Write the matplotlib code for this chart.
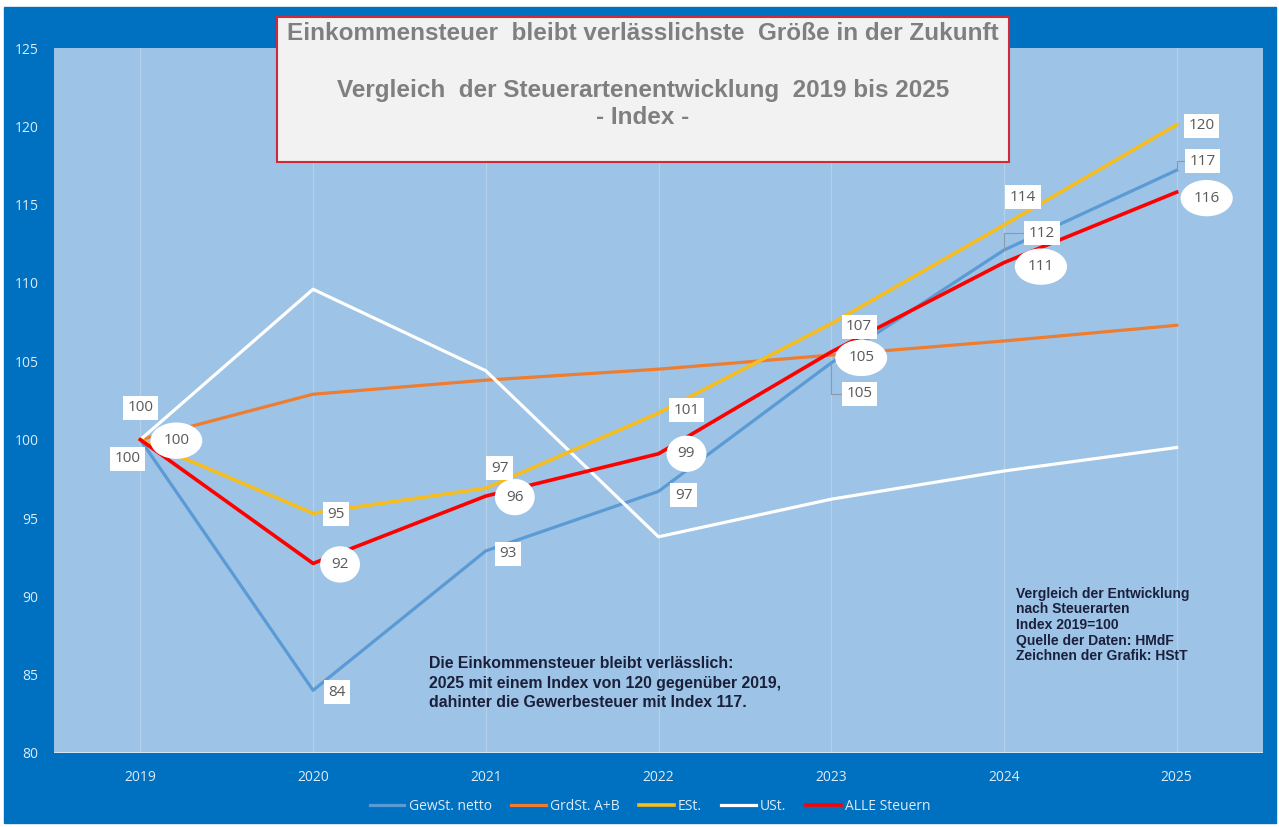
import matplotlib
matplotlib.use("Agg")
import matplotlib.pyplot as plt
from matplotlib.patches import Rectangle

# --- Daten (Index 2019 = 100) ---
jahre = [2019, 2020, 2021, 2022, 2023, 2024, 2025]
gewst = [100, 84.0, 92.9, 96.7, 104.9, 112.1, 117.2]
grdst = [100, 102.9, 103.8, 104.5, 105.4, 106.3, 107.3]
est = [100, 95.3, 96.9, 101.7, 107.4, 113.7, 120.1]
ust = [100, 109.6, 104.4, 93.8, 96.2, 98.0, 99.5]
alle = [100, 92.1, 96.4, 99.1, 105.6, 111.3, 115.8]

lab_gewst = ["100", "84", "93", "97", "105", "112", "117"]
lab_est = ["100", "95", "97", "101", "107", "114", "120"]
lab_alle = ["100", "92", "96", "99", "105", "111", "116"]

# Label-Versatz in Pixeln
off_gewst = [(-13, -19), (24, -2), (22, -3), (25, -4), (28, -31), (38, 17), (26, 9)]
off_est = [(0, 32), (23, -1), (14, 20), (28, 3), (28, -3), (19, 28), (25, -1)]
off_alle = [(36, -1), (27, -1), (29, -1), (28, 0), (30, -6), (37, -4), (30, -6)]
leader_gewst = [False, False, False, False, True, True, True]

DUNKEL, HELL = "#0070C0", "#9DC3E6"
C_GEW, C_GRD, C_EST, C_UST, C_ALLE = "#5B9BD5", "#ED7D31", "#F5BD1F", "#FFFFFF", "#FF0000"
plt.rcParams["font.family"] = ["Open Sans", "DejaVu Sans"]

fig = plt.figure(figsize=(12.79, 8.27), dpi=100)
fig.patch.set_facecolor("white")
fig.patches.append(Rectangle((4 / 1279, 4 / 827), 1272 / 1279, 816 / 827,
                             transform=fig.transFigure, color=DUNKEL, zorder=-10))

ax = fig.add_axes([54 / 1279, 74 / 827, 1209 / 1279, 705 / 827])
ax.set_facecolor(HELL)
for s in ax.spines.values():
    s.set_visible(False)
ax.set_xlim(2018.5, 2025.5)
ax.set_ylim(80, 125)
ax.set_xticks(jahre)
ax.set_yticks(range(80, 126, 5))
ax.tick_params(length=0, colors="#DDEBF7", labelsize=10)
ax.tick_params(axis="x", pad=12)
ax.tick_params(axis="y", pad=11)
ax.grid(axis="x", color="#B4D1EC", lw=0.9)
ax.axhline(80, color="#DDEBF7", lw=1.2)

ax.plot(jahre, gewst, color=C_GEW, lw=2.3, label="GewSt. netto", zorder=3)
ax.plot(jahre, grdst, color=C_GRD, lw=2.3, label="GrdSt. A+B", zorder=3)
ax.plot(jahre, est, color=C_EST, lw=2.6, label="ESt.", zorder=4)
ax.plot(jahre, ust, color=C_UST, lw=2.3, label="USt.", zorder=3)
ax.plot(jahre, alle, color=C_ALLE, lw=2.6, label="ALLE Steuern", zorder=5)

box = dict(boxstyle="square,pad=0.3", fc="white", ec="none")
ell = dict(boxstyle="ellipse,pad=0.35", fc="white", ec="none")
for x, y, t, o, ld in zip(jahre, gewst, lab_gewst, off_gewst, leader_gewst):
    ap = dict(arrowstyle="-", color="#8C9AA8", lw=0.8, shrinkA=0, shrinkB=0,
              connectionstyle="angle,angleA=0,angleB=90,rad=0") if ld else None
    ax.annotate(t, (x, y), xytext=o, textcoords="offset pixels", ha="center", va="center",
                fontsize=11, color="#595959", bbox=box, arrowprops=ap, zorder=6)
for x, y, t, o in zip(jahre, est, lab_est, off_est):
    ax.annotate(t, (x, y), xytext=o, textcoords="offset pixels", ha="center", va="center",
                fontsize=11, color="#595959", bbox=box, zorder=6)
for x, y, t, o in zip(jahre, alle, lab_alle, off_alle):
    ax.annotate(t, (x, y), xytext=o, textcoords="offset pixels", ha="center", va="center",
                fontsize=11, color="#595959", bbox=ell, zorder=7)

ax.text(0.310, 0.138, "Die Einkommensteuer bleibt verlässlich:\n2025 mit einem Index von 120 gegenüber 2019,\n"
        "dahinter die Gewerbesteuer mit Index 117.", transform=ax.transAxes, fontsize=11.4,
        fontweight="bold", color="#1A1F3A", va="top", ha="left", family="Liberation Sans", linespacing=1.4)
ax.text(0.796, 0.236, "Vergleich der Entwicklung\nnach Steuerarten\nIndex 2019=100\nQuelle der Daten: HMdF\n"
        "Zeichnen der Grafik: HStT", transform=ax.transAxes, fontsize=10, fontweight="bold",
        color="#1A1F3A", va="top", ha="left", family="Liberation Sans", linespacing=1.15)

# Titelkasten
fig.patches.append(Rectangle((277 / 1279, 665 / 827), 732 / 1279, 145 / 827, transform=fig.transFigure,
                             fc="#F2F2F2", ec="#D0293A", lw=1.5, zorder=10))
tkw = dict(ha="center", va="center", color="#7F7F7F", fontweight="bold", family="Liberation Sans", zorder=11)
fig.text(643 / 1279, 1 - 34 / 827, "Einkommensteuer  bleibt verlässlichste  Größe in der Zukunft", fontsize=17.5, **tkw)
fig.text(643 / 1279, 1 - 91 / 827, "Vergleich  der Steuerartenentwicklung  2019 bis 2025", fontsize=17.5, **tkw)
fig.text(643 / 1279, 1 - 118 / 827, "- Index -", fontsize=17.5, **tkw)

leg = fig.legend(loc="center", bbox_to_anchor=(650 / 1279, 1 - 806 / 827), ncol=5, frameon=False,
                 fontsize=10, handlelength=2.5, handletextpad=0.3, columnspacing=1.4)
for t in leg.get_texts():
    t.set_color("#DDEBF7")

fig.savefig("out.png", dpi=100)
